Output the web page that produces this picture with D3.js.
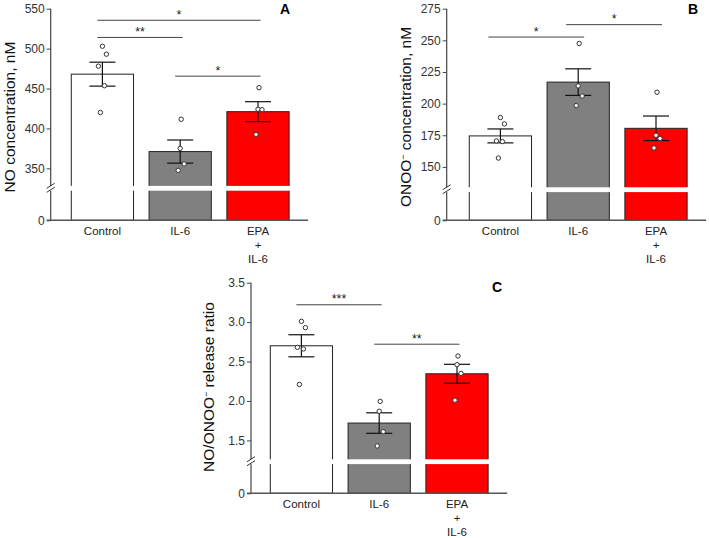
<!DOCTYPE html>
<html>
<head>
<meta charset="utf-8">
<script src="https://cdn.jsdelivr.net/npm/d3@7"></script>
<style>
  body { margin: 0; background: #fff; }
  svg { display: block; font-family: Arial, "Liberation Sans", sans-serif; }
</style>
</head>
<body>
<script>
// groups on the x axis (last one is written on three lines)
var groups = ["Control", "IL-6", "EPA + IL-6"];
var groupLines = [["Control"], ["IL-6"], ["EPA", "+", "IL-6"]];

// A: NO concentration, nM
var noMean = [468, 371, 421];
var noSem = [15, 14.5, 12.5];
var noPoints = [[503, 493, 478, 453.5, 420], [411.5, 375, 355.5, 347.5], [451, 424, 423.5, 392.5]];
var noTicks = [0, 350, 400, 450, 500, 550];
var noSig = [[0, 2, "*", 535.5], [0, 1, "**", 514], [1, 2, "*", 465.5]];

// B: ONOO- concentration, nM
var onooMean = [174.5, 217, 180.5];
var onooSem = [5.5, 10.5, 9.7];
var onooPoints = [[189, 184, 170.5, 170, 157], [247.5, 214, 206, 198.5], [209, 175, 172.5, 165]];
var onooTicks = [0, 150, 175, 200, 225, 250, 275];
var onooSig = [[0, 1, "*", 252.6], [1, 2, "*", 262.4]];

// C: NO/ONOO- release ratio
var ratioMean = [2.70, 1.72, 2.345];
var ratioSem = [0.14, 0.13, 0.12];
var ratioPoints = [[3.01, 2.93, 2.68, 2.66, 2.21], [1.995, 1.87, 1.61, 1.43], [2.57, 2.46, 2.35, 2.01]];
var ratioTicks = [0, 1.5, 2.0, 2.5, 3.0, 3.5];
var ratioSig = [[0, 1, "***", 3.22], [1, 2, "**", 2.72]];

var fills = ["#ffffff", "#808080", "#ff0000"];
var jitter5 = [0, 4, -4, 2, -2];
var jitter4 = [1, 0, 4, -2];

var svg = d3.select("body").append("svg")
    .attr("width", 709)
    .attr("height", 538);

function drawPanel(p) {
  var g = svg.append("g");

  var y = d3.scaleLinear().domain(p.domain).range(p.range);
  var x = d3.scaleBand().domain(groups)
      .range([p.bandStart, p.bandStart + 3 * 77.8])
      .paddingInner(0.2).paddingOuter(0.1);
  var y0 = y(0), yTop = y(p.domain[2]), yBrk = y(p.domain[1]);
  var xEnd = x(groups[2]) + x.bandwidth() + 19;

  // bars
  g.selectAll(".bar").data(p.mean).enter().append("rect")
      .attr("x", function(d, i) { return x(groups[i]); })
      .attr("y", function(d) { return y(d); })
      .attr("width", x.bandwidth())
      .attr("height", function(d) { return y0 - y(d); })
      .attr("fill", function(d, i) { return fills[i]; })
      .attr("stroke", "#222")
      .attr("stroke-width", 1);

  // error bars
  p.mean.forEach(function(m, i) {
    var cx = x(groups[i]) + x.bandwidth() / 2;
    var hi = y(m + p.sem[i]), lo = y(m - p.sem[i]);
    g.append("line").attr("x1", cx).attr("x2", cx).attr("y1", hi).attr("y2", lo)
        .attr("stroke", "#111").attr("stroke-width", 1.2);
    [hi, lo].forEach(function(v) {
      g.append("line").attr("x1", cx - 13).attr("x2", cx + 13).attr("y1", v).attr("y2", v)
          .attr("stroke", "#111").attr("stroke-width", 1.2);
    });
  });

  // individual points
  p.points.forEach(function(arr, i) {
    var cx = x(groups[i]) + x.bandwidth() / 2;
    var jit = arr.length == 5 ? jitter5 : jitter4;
    g.selectAll(null).data(arr).enter().append("circle")
        .attr("cx", function(d, j) { return cx + jit[j]; })
        .attr("cy", function(d) { return y(d); })
        .attr("r", 2.2)
        .attr("fill", "#fff")
        .attr("stroke", "#333")
        .attr("stroke-width", 1);
  });

  // y axis (ticks only, domain drawn by hand)
  var ax = g.append("g")
      .attr("transform", "translate(" + p.axisX + ",0)")
      .call(d3.axisLeft(y).tickValues(p.ticks).tickSize(4).tickPadding(2)
        .tickFormat(function(d) { return d === 0 ? "0" : d3.format(p.fmt)(d); }));
  ax.select(".domain").remove();
  ax.selectAll(".tick line").attr("stroke", "#444");
  ax.selectAll(".tick text").attr("fill", "#333").style("font-size", "12px")
      .style("font-family", "Arial, 'Liberation Sans', sans-serif");

  g.append("line").attr("x1", p.axisX).attr("x2", p.axisX).attr("y1", yTop).attr("y2", y0)
      .attr("stroke", "#444").attr("stroke-width", 1.2);
  g.append("line").attr("x1", p.axisX - 4).attr("x2", xEnd).attr("y1", y0).attr("y2", y0)
      .attr("stroke", "#555").attr("stroke-width", 1.4);

  // axis break: white band and // marks
  g.append("rect").attr("x", p.axisX - 2).attr("y", yBrk - 2.4)
      .attr("width", xEnd - p.axisX + 2).attr("height", 4.8).attr("fill", "#fff");
  [-2, 2].forEach(function(o) {
    g.append("line")
        .attr("x1", p.axisX - 4).attr("y1", yBrk + o + 2)
        .attr("x2", p.axisX + 4).attr("y2", yBrk + o - 3)
        .attr("stroke", "#333").attr("stroke-width", 1);
  });

  // x labels
  groupLines.forEach(function(lines, i) {
    var cx = x(groups[i]) + x.bandwidth() / 2;
    var t = g.append("text").attr("text-anchor", "middle")
        .attr("fill", "#222").style("font-size", "11.5px");
    lines.forEach(function(s, k) {
      t.append("tspan").attr("x", cx).attr("y", y0 + 14.5 + k * 14).text(s);
    });
  });

  // significance lines
  p.sig.forEach(function(s) {
    var xa = x(groups[s[0]]) + x.bandwidth() / 2 - p.sigPad;
    var xb = x(groups[s[1]]) + x.bandwidth() / 2 + p.sigPad / 2;
    var ly = y(s[3]);
    g.append("line").attr("x1", xa).attr("x2", xb).attr("y1", ly).attr("y2", ly)
        .attr("stroke", "#444").attr("stroke-width", 1);
    g.append("text").attr("x", (xa + xb) / 2).attr("y", ly - 1.5)
        .attr("text-anchor", "middle").attr("fill", "#222")
        .style("font-size", "12.5px").text(s[2]);
  });

  // y title
  var tt = g.append("text")
      .attr("transform", "translate(" + p.titleX + "," + p.titleY + ") rotate(-90)")
      .attr("text-anchor", "middle").attr("dy", "0.35em")
      .attr("fill", "#111").style("font-size", "15.5px");
  p.title.forEach(function(part) {
    var ts = tt.append("tspan").text(part[0]);
    if (part[1]) ts.attr("baseline-shift", "super").style("font-size", "9px");
  });

  // panel letter
  g.append("text").attr("x", p.letterX).attr("y", p.letterY)
      .attr("font-weight", "bold").attr("fill", "#000")
      .style("font-size", "14px").text(p.letter);
}

drawPanel({
  mean: noMean, sem: noSem, points: noPoints, ticks: noTicks, sig: noSig, fmt: "d",
  domain: [0, 325, 550], range: [220.3, 188.3, 8.7],
  axisX: 50.7, bandStart: 63.5, sigPad: 5,
  title: [["NO concentration, nM"]], titleX: 10, titleY: 117,
  letter: "A", letterX: 280, letterY: 14
});

drawPanel({
  mean: onooMean, sem: onooSem, points: onooPoints, ticks: onooTicks, sig: onooSig, fmt: "d",
  domain: [0, 132, 275], range: [220.3, 189.7, 8.7],
  axisX: 446.7, bandStart: 461.5, sigPad: 12,
  title: [["ONOO"], ["\u2212", true], [" concentration, nM"]], titleX: 406, titleY: 117,
  letter: "B", letterX: 688, letterY: 14
});

drawPanel({
  mean: ratioMean, sem: ratioSem, points: ratioPoints, ticks: ratioTicks, sig: ratioSig, fmt: ".1f",
  domain: [0, 1.23, 3.5], range: [493.3, 461.7, 282.7],
  axisX: 251, bandStart: 262.5, sigPad: 5,
  title: [["NO/ONOO"], ["\u2212", true], [" release ratio"]], titleX: 209, titleY: 387,
  letter: "C", letterX: 492, letterY: 291.5
});
</script>
</body>
</html>
